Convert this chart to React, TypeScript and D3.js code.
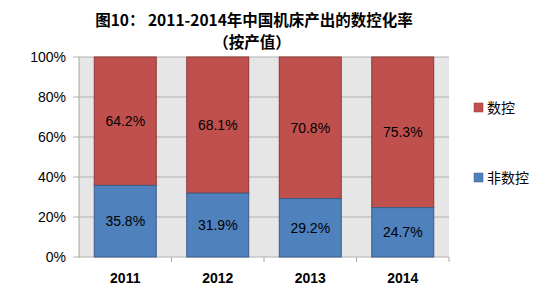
import React from "react";
import * as d3 from "d3";

const categories = ["2011", "2012", "2013", "2014"];
const nonCnc = [35.8, 31.9, 29.2, 24.7];
const cnc = [64.2, 68.1, 70.8, 75.3];
const yTicks = [0, 20, 40, 60, 80, 100];
const seriesNames = ["数控", "非数控"];

const W = 554, H = 288;
const left = 79, right = 449, top = 57, bottom = 257;

export default function App() {
  const x = d3.scaleBand().domain(categories).range([left, right]).paddingInner(0.33).paddingOuter(0.165);
  const y = d3.scaleLinear().domain([0, 100]).range([bottom, top]);
  const font = "'Liberation Sans', Arial, sans-serif";
  const cjk = "'Noto Sans CJK SC', sans-serif";
  const step = (right - left) / categories.length;
  return (
    <svg width={W} height={H} style={{ position: "absolute", left: 0, top: 0, background: "#fff" }}>
      <text x={254} y={26} textAnchor="middle" fontFamily={cjk} fontWeight="bold" fontSize={15.5} fill="#000">
        图10： 2011-2014年中国机床产出的数控化率
      </text>
      <text x={252} y={48} textAnchor="middle" fontFamily={cjk} fontWeight="bold" fontSize={15.5} fill="#000">
        （按产值）
      </text>
      <rect x={left} y={top} width={right - left} height={bottom - top} fill="#e6e6e6" />
      {yTicks.map((t) => (
        <g key={t}>
          <line x1={left - 6} x2={right} y1={y(t)} y2={y(t)} stroke="#b3b3b3" strokeWidth={1} />
          <text x={66} y={y(t) + 5} textAnchor="end" fontFamily={font} fontSize={14} fill="#000">
            {t}%
          </text>
        </g>
      ))}
      <line x1={left} x2={left} y1={top} y2={bottom + 1} stroke="#a6a6a6" />
      {categories.map((c, i) => {
        const bx = x(c)!;
        const bw = x.bandwidth();
        return (
          <g key={c}>
            <line x1={left + step * (i + 1)} x2={left + step * (i + 1)} y1={bottom} y2={bottom + 5} stroke="#a6a6a6" />
            <rect x={bx} y={y(nonCnc[i] + cnc[i])} width={bw} height={y(nonCnc[i]) - y(nonCnc[i] + cnc[i])} fill="#c0504d" stroke="#8c3836" strokeWidth={1} />
            <rect x={bx} y={y(nonCnc[i])} width={bw} height={y(0) - y(nonCnc[i])} fill="#4f81bd" stroke="#385d8a" strokeWidth={1} />
            <text x={bx + bw / 2} y={(y(nonCnc[i]) + y(100)) / 2 + 5} textAnchor="middle" fontFamily={font} fontSize={14} fill="#000">
              {cnc[i].toFixed(1)}%
            </text>
            <text x={bx + bw / 2} y={(y(nonCnc[i]) + y(0)) / 2 + 5} textAnchor="middle" fontFamily={font} fontSize={14} fill="#000">
              {nonCnc[i].toFixed(1)}%
            </text>
            <text x={bx + bw / 2} y={283} textAnchor="middle" fontFamily={font} fontWeight="bold" fontSize={14} fill="#000">
              {c}
            </text>
          </g>
        );
      })}
      <rect x={474} y={103} width={9} height={9} fill="#c0504d" stroke="#8c3836" strokeWidth={0.5} />
      <text x={487} y={113} fontFamily={cjk} fontSize={14} fill="#000">{seriesNames[0]}</text>
      <rect x={474} y={173} width={9} height={9} fill="#4f81bd" stroke="#385d8a" strokeWidth={0.5} />
      <text x={487} y={183} fontFamily={cjk} fontSize={14} fill="#000">{seriesNames[1]}</text>
    </svg>
  );
}
